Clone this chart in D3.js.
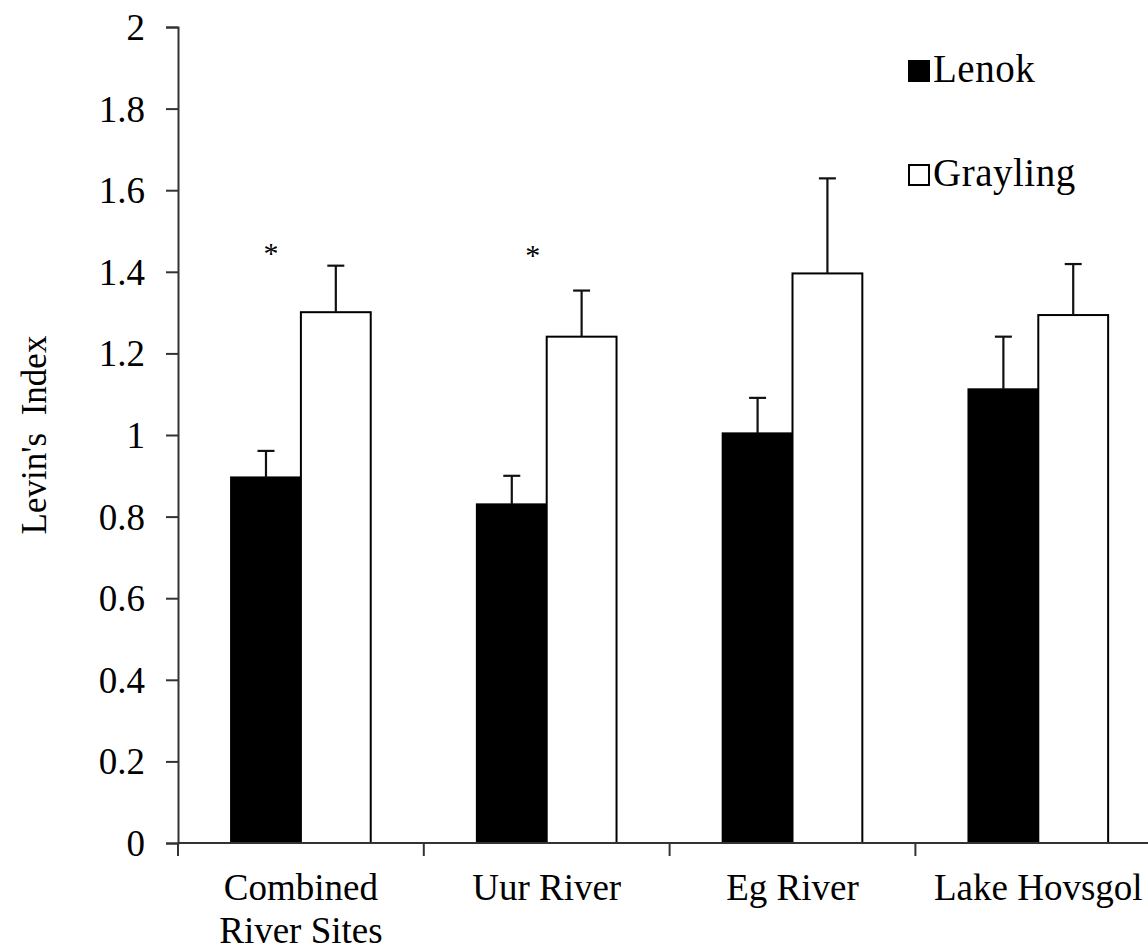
<!DOCTYPE html>
<html><head><meta charset="utf-8">
<script src="https://cdn.jsdelivr.net/npm/d3@7/dist/d3.min.js"></script>
<style>
html,body{margin:0;padding:0;background:#fff;overflow:hidden}
text{font-family:"Liberation Serif","Times New Roman",serif;fill:#000}
</style></head><body>
<script>
const categories = ["Combined|River Sites", "Uur River", "Eg River", "Lake Hovsgol"];
const series = ["Lenok", "Grayling"];
const lenokValues = [0.896, 0.830, 1.004, 1.112];
const lenokErrors = [0.065, 0.070, 0.087, 0.129];
const graylingValues = [1.301, 1.241, 1.396, 1.294];
const graylingErrors = [0.114, 0.113, 0.233, 0.125];
const yTicks = [0, 0.2, 0.4, 0.6, 0.8, 1, 1.2, 1.4, 1.6, 1.8, 2];
const yTickLabels = ["0", "0.2", "0.4", "0.6", "0.8", "1", "1.2", "1.4", "1.6", "1.8", "2"];
const significance = [{cat: 0, value: 1.455, shift: 5}, {cat: 1, value: 1.45, shift: 21}];

const W = 1148, H = 951;
const svg = d3.select("body").append("svg").attr("width", W).attr("height", H);

const x0 = d3.scaleBand().domain(d3.range(categories.length)).range([178, 178 + 4 * 245.8]).paddingInner(0).paddingOuter(0);
const x1 = d3.scaleBand().domain(series).range([0, x0.bandwidth()]).paddingInner(0).paddingOuter(0.76);
const y = d3.scaleLinear().domain([0, 2]).range([843, 27]);

const rows = categories.map((c, i) => [
  {s: "Lenok", v: lenokValues[i], e: lenokErrors[i], i},
  {s: "Grayling", v: graylingValues[i], e: graylingErrors[i], i}
]).flat();

// bars
const g = svg.append("g");
g.selectAll("rect.bar").data(rows).join("rect")
  .attr("x", d => x0(d.i) + x1(d.s))
  .attr("y", d => y(d.v))
  .attr("width", x1.bandwidth())
  .attr("height", d => y(0) - y(d.v))
  .attr("fill", d => d.s === "Lenok" ? "#000" : "#fff")
  .attr("stroke", "#000").attr("stroke-width", 2);

// error bars
const eb = g.selectAll("g.eb").data(rows).join("g").attr("stroke", "#111").attr("stroke-width", 2.2);
eb.append("line")
  .attr("x1", d => x0(d.i) + x1(d.s) + x1.bandwidth() / 2)
  .attr("x2", d => x0(d.i) + x1(d.s) + x1.bandwidth() / 2)
  .attr("y1", d => y(d.v)).attr("y2", d => y(d.v + d.e));
eb.append("line")
  .attr("x1", d => x0(d.i) + x1(d.s) + x1.bandwidth() / 2 - 8.5)
  .attr("x2", d => x0(d.i) + x1(d.s) + x1.bandwidth() / 2 + 8.5)
  .attr("y1", d => y(d.v + d.e)).attr("y2", d => y(d.v + d.e));

// significance
svg.selectAll("text.sig").data(significance).join("text")
  .attr("x", d => x0(d.cat) + x1("Lenok") + x1.bandwidth() / 2 + d.shift)
  .attr("y", d => y(d.value) + 14)
  .attr("text-anchor", "middle").attr("font-size", 30).text("*");

// y axis
const yAxis = d3.axisLeft(y).tickValues(yTicks).tickFormat((d, i) => yTickLabels[i]).tickSize(12).tickPadding(21).tickSizeOuter(12);
const ya = svg.append("g").attr("transform", "translate(178,0)").call(yAxis);
ya.selectAll("text").attr("font-size", 37).attr("font-family", "Liberation Serif").attr("dy", "0.34em");
ya.selectAll("line").attr("stroke", "#333").attr("stroke-width", 2);
ya.select(".domain").attr("stroke", "#333").attr("stroke-width", 2);

// x axis
const xa = svg.append("g");
xa.append("line").attr("x1", 178).attr("x2", W).attr("y1", y(0)).attr("y2", y(0)).attr("stroke", "#333").attr("stroke-width", 2);
xa.selectAll("line.tk").data(d3.range(categories.length + 1)).join("line")
  .attr("x1", d => 178 + d * x0.step()).attr("x2", d => 178 + d * x0.step())
  .attr("y1", y(0)).attr("y2", y(0) + 13).attr("stroke", "#333").attr("stroke-width", 2);
const xl = xa.selectAll("text").data(categories).join("text")
  .attr("text-anchor", "middle").attr("font-size", 37)
  .attr("transform", (d, i) => `translate(${x0(i) + x0.bandwidth() / 2},900)`);
xl.selectAll("tspan").data(d => d.split("|")).join("tspan")
  .attr("x", 0).attr("y", (d, k) => k * 43).text(d => d);

// y label
svg.append("text").attr("transform", "translate(46,435) rotate(-90)")
  .attr("text-anchor", "middle").attr("font-size", 35).attr("xml:space", "preserve").text("Levin's  Index");

// legend
const legY = [82, 186];
const leg = svg.selectAll("g.leg").data(series).join("g").attr("transform", (d, i) => `translate(908,${legY[i]})`);
leg.append("rect").attr("x", 1).attr("y", -21).attr("width", 20).attr("height", 20)
  .attr("fill", d => d === "Lenok" ? "#000" : "#fff").attr("stroke", "#000").attr("stroke-width", 2);
leg.append("text").attr("x", 25).attr("y", 0).attr("font-size", 39).attr("letter-spacing", 0.5).text(d => d);
</script>
</body></html>
